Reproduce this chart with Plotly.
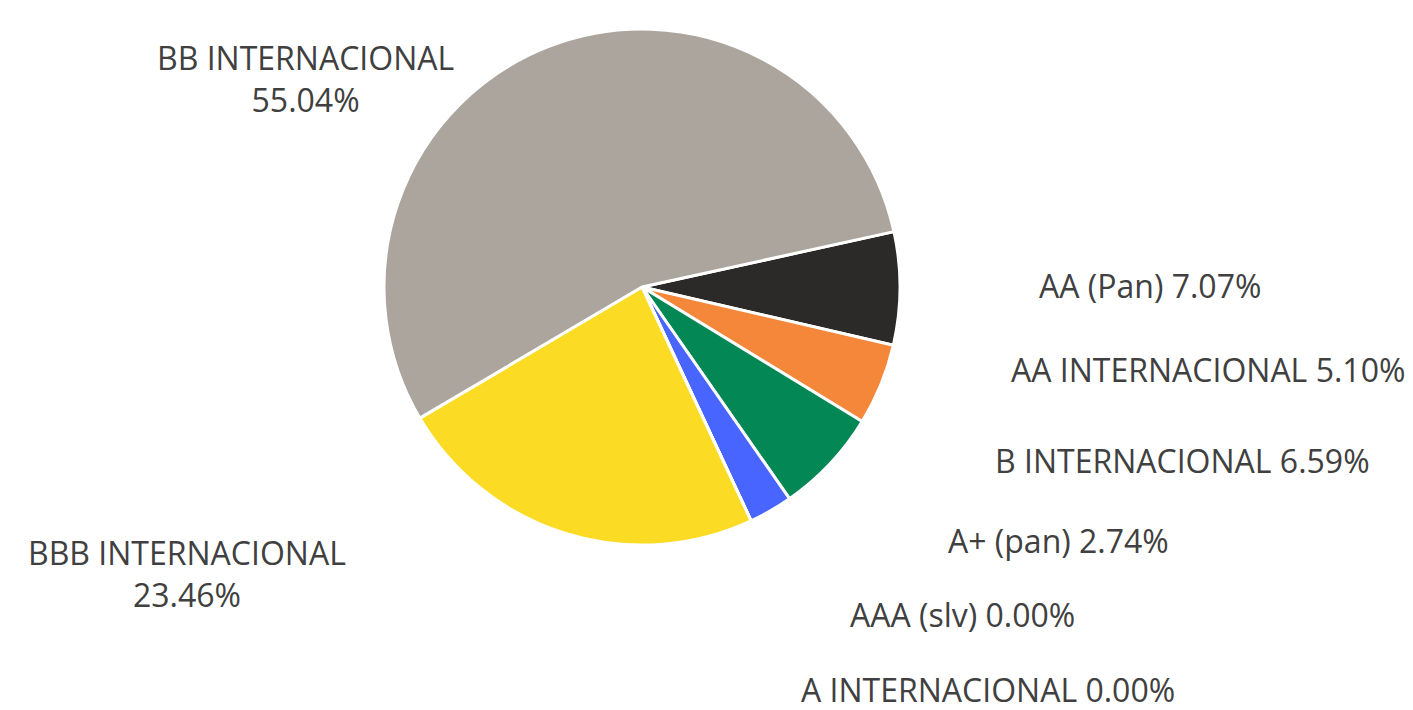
import plotly.graph_objects as go

# Slices in clockwise order starting from the AA (Pan) wedge
LABELS = [
    "AA (Pan)",
    "AA INTERNACIONAL",
    "B INTERNACIONAL",
    "A+ (pan)",
    "AAA (slv)",
    "A INTERNACIONAL",
    "BBB INTERNACIONAL",
    "BB INTERNACIONAL",
]
VALUES = [7.07, 5.10, 6.59, 2.74, 0.00, 0.00, 23.46, 55.04]
COLOURS = [
    "#2B2A29",  # black
    "#F5873A",  # orange
    "#038754",  # green
    "#4866FF",  # blue
    "#7F7F7F",
    "#5B9BD5",
    "#FCDB24",  # yellow
    "#ABA59E",  # grey
]

# label placement (page px in a 1413x710 page) and whether it wraps onto two lines
W, H = 1413, 710
LABEL_POS = [
    (1150, 285), (1208, 369), (1182, 460), (1058, 540),
    (962, 614), (988, 689), (187, 573), (305, 79),
]
TWO_LINE = {"BB INTERNACIONAL", "BBB INTERNACIONAL"}

CX, CY, R = 642, 287, 258

fig = go.Figure(
    go.Pie(
        labels=LABELS,
        values=VALUES,
        sort=False,
        direction="clockwise",
        rotation=77.6,
        marker=dict(colors=COLOURS, line=dict(color="#FFFFFF", width=3)),
        textinfo="none",
        hoverinfo="label+percent",
        domain=dict(
            x=[(CX - R) / W, (CX + R) / W],
            y=[1 - (CY + R) / H, 1 - (CY - R) / H],
        ),
    )
)

for lab, val, (px, py) in zip(LABELS, VALUES, LABEL_POS):
    sep = "<br>" if lab in TWO_LINE else " "
    fig.add_annotation(
        x=px / W, y=1 - py / H, xref="paper", yref="paper",
        text=f"{lab}{sep}{val:.2f}%",
        showarrow=False, xanchor="center", yanchor="middle",
        font=dict(family="Open Sans", size=32, color="#404040"),
        align="center",
    )

fig.update_layout(
    width=W, height=H,
    margin=dict(l=0, r=0, t=0, b=0),
    showlegend=False,
    paper_bgcolor="#FFFFFF",
    plot_bgcolor="#FFFFFF",
)

fig.write_html(
    "out.html",
    config={"displayModeBar": False},
    post_script="document.body.style.margin='0';",
)
